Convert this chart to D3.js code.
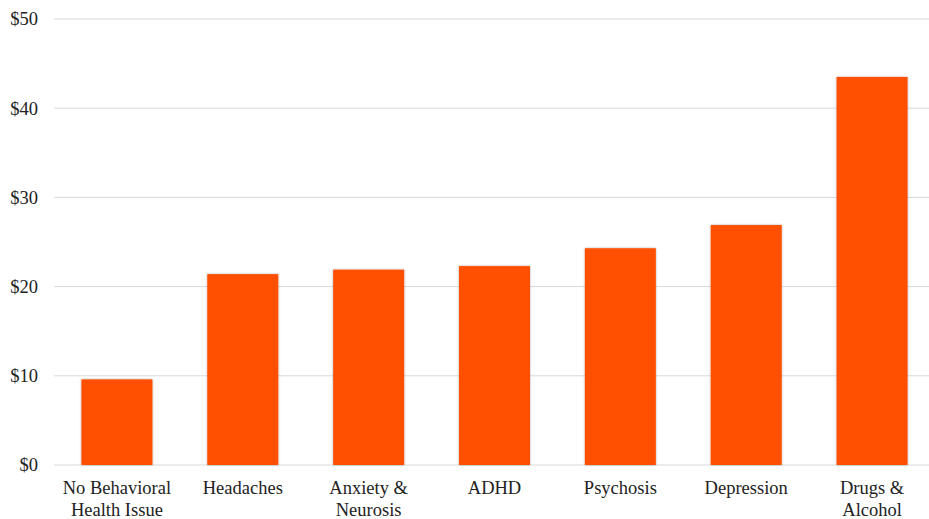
<!DOCTYPE html>
<html>
<head>
<meta charset="utf-8">
<script src="https://cdn.jsdelivr.net/npm/d3@7"></script>
<style>
  body { margin: 0; background: #fff; }
</style>
</head>
<body>
<svg id="chart" width="929" height="519"></svg>
<script>
// Chart data
const categories = [
    ["No Behavioral", "Health Issue"],
    ["Headaches"],
    ["Anxiety &", "Neurosis"],
    ["ADHD"],
    ["Psychosis"],
    ["Depression"],
    ["Drugs &", "Alcohol"]
];
const values = [9.6, 21.4, 21.9, 22.3, 24.3, 26.9, 43.5];
const yTicks = [0, 10, 20, 30, 40, 50];

const svg = d3.select("#chart");
const plotLeft = 54, plotRight = 935, plotTop = 19, plotBottom = 465;
const fontFamily = "'Liberation Serif', 'Times New Roman', Times, serif";

const x = d3.scaleBand()
    .domain(d3.range(categories.length))
    .range([plotLeft, plotRight])
    .paddingInner(0.436)
    .paddingOuter(0.218);

const y = d3.scaleLinear().domain([0, 50]).range([plotBottom, plotTop]);

// drop shadow for bars
const defs = svg.append("defs");
const f = defs.append("filter").attr("id", "shadow")
    .attr("x", "-10%").attr("y", "-10%").attr("width", "120%").attr("height", "120%");
f.append("feDropShadow").attr("dx", 0).attr("dy", 0).attr("stdDeviation", 1)
    .attr("flood-color", "#000").attr("flood-opacity", 0.35);

// gridlines
svg.append("g")
    .selectAll("line")
    .data(yTicks)
    .join("line")
    .attr("x1", plotLeft).attr("x2", 929)
    .attr("y1", d => y(d)).attr("y2", d => y(d))
    .attr("stroke", "#d9d9d9")
    .attr("stroke-width", 1);

// y labels
svg.append("g")
    .selectAll("text")
    .data(yTicks)
    .join("text")
    .attr("x", 38)
    .attr("y", d => y(d))
    .attr("dy", "0.35em")
    .attr("text-anchor", "end")
    .attr("font-family", fontFamily)
    .attr("font-size", 18.5)
    .attr("fill", "#222")
    .text(d => "$" + d);

// bars
svg.append("g")
    .selectAll("rect")
    .data(values)
    .join("rect")
    .attr("x", (d, i) => x(i))
    .attr("y", d => y(d))
    .attr("width", x.bandwidth())
    .attr("height", d => y(0) - y(d))
    .attr("fill", "#ff5000")
    .attr("filter", "url(#shadow)");

// category labels
const lab = svg.append("g")
    .selectAll("text")
    .data(categories)
    .join("text")
    .attr("x", (d, i) => x(i) + x.bandwidth() / 2)
    .attr("y", 494)
    .attr("text-anchor", "middle")
    .attr("font-family", fontFamily)
    .attr("font-size", 18.5)
    .attr("fill", "#222");

lab.selectAll("tspan")
    .data(d => d)
    .join("tspan")
    .attr("x", function () { return d3.select(this.parentNode).attr("x"); })
    .attr("dy", (d, i) => i === 0 ? 0 : 22)
    .text(d => d);
</script>
</body>
</html>
